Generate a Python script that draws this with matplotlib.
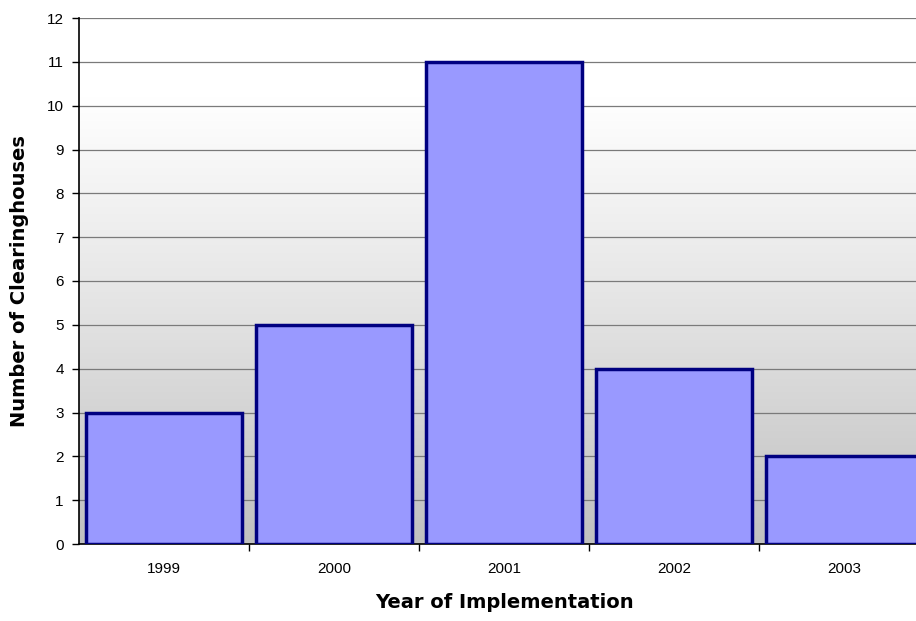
import numpy as np
import matplotlib
matplotlib.use('Agg')
import matplotlib.pyplot as plt
from matplotlib.colors import LinearSegmentedColormap

# data
years = ['1999', '2000', '2001', '2002', '2003']
counts = [3, 5, 11, 4, 2]
y_ticks = list(range(0, 13))

plt.rcParams['font.family'] = ['Liberation Sans', 'DejaVu Sans']

fig = plt.figure(figsize=(9.16, 6.21), dpi=100)
# the plot area runs past the right edge of the picture, as in the reference
ax = fig.add_axes([79 / 916, 77 / 621, 850 / 916, 526 / 621])

x = np.arange(len(years))
ax.set_xlim(-0.5, len(years) - 0.5)
ax.set_ylim(0, 12)

# grey-to-white background gradient
grad = np.linspace(0, 1, 256).reshape(-1, 1)
cmap = LinearSegmentedColormap.from_list(
    'bg', [(0.0, '#c0c0c0'), (0.45, '#e4e4e4'), (0.85, '#ffffff'), (1.0, '#ffffff')])
ax.imshow(grad, aspect='auto', cmap=cmap, origin='lower',
          extent=(-0.5, len(years) - 0.5, 0, 12), zorder=0)

ax.set_yticks(y_ticks)
ax.yaxis.grid(True, color='#7a7a7a', linewidth=0.9, zorder=1)
ax.set_axisbelow(True)

ax.bar(x, counts, width=0.92, color='#9999ff', edgecolor='#000080',
       linewidth=2.5, zorder=3)

# category ticks sit on the boundaries between bars
ax.set_xticks(x + 0.5, minor=False)
ax.set_xticklabels([])
ax.set_xticks(x, minor=True)
ax.set_xticklabels(years, minor=True, fontsize=11)
ax.tick_params(axis='x', which='minor', length=0, pad=13)
ax.tick_params(axis='x', which='major', length=5, width=1, direction='out')
ax.tick_params(axis='y', length=5, width=1, direction='out', labelsize=11, pad=6)

for side in ['top', 'right']:
    ax.spines[side].set_visible(False)
ax.spines['left'].set_linewidth(1.2)
ax.spines['bottom'].set_linewidth(1.2)

ax.set_xlabel('Year of Implementation', fontsize=14, fontweight='bold',
              family='DejaVu Sans', labelpad=12)
ax.set_ylabel('Number of Clearinghouses', fontsize=14, fontweight='bold',
              family='DejaVu Sans', labelpad=13)

fig.savefig('out.png', dpi=100)
